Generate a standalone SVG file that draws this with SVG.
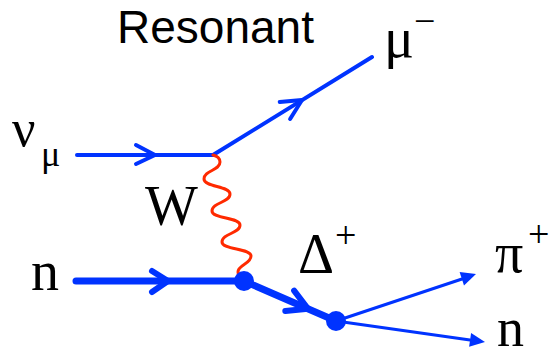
<svg xmlns="http://www.w3.org/2000/svg" width="549" height="358" viewBox="0 0 549 358">
<style>
.f{fill:none;stroke:#0033ff;stroke-linecap:round;stroke-linejoin:round}
.l1{stroke-width:4}
.l2{stroke-width:7}
.l3{stroke-width:3}
.w{fill:none;stroke:#ff2a00;stroke-width:3;stroke-linecap:round}
.dot{fill:#0033ff}
.head{fill:#0033ff}
.lab{font-family:"Liberation Serif","Times New Roman",serif;fill:#000}
.ttl{font-family:"Liberation Sans",Arial,sans-serif;fill:#000}
</style>
<rect width="549" height="358" fill="#fff"/>
<g id="title"><text class="ttl" x="117" y="43" font-size="46">Resonant</text></g>
<g id="connectors">
<path class="f l1" d="M77,155 H213"/>
<path class="f l1" d="M136,145 L155,155 L136,164"/>
<path class="f l1" d="M213,155 L372,57"/>
<path class="f l1" d="M279.7,101.9 L302,100 L290.1,119"/>
<path class="w" d="M213,155 C217,156 220,158 220,162 C220,171 204,170 204,179 C204,187 230,186 230,194 C230,203 212,202 212,211 C212,219 240,217 240,225 C240,234 222,233 222,242 C222,250 251,248 251,256 C251,264 238,265 238,272 C238,276 240,278 243,280"/>
<path class="f l2" d="M76,281 H244"/>
<path class="f" stroke-width="6" d="M152,271 L168,281 L152,292"/>
<path class="f l2" d="M244,281 L336,321"/>
<path class="f" stroke-width="6" d="M294.1,290.7 L308,308.8 L285.3,310.9"/>
<path class="f l3" d="M336,321 L462,279"/>
<polygon class="head" points="476,274 459.6,272.1 464,285.4"/>
<path class="f l3" d="M336,321 L470,340"/>
<polygon class="head" points="485,342 471.1,333 469.1,346.8"/>
</g>
<g id="vertex1"><circle class="dot" cx="244" cy="281" r="10"/></g>
<g id="vertex2"><circle class="dot" cx="336" cy="321" r="10"/></g>
<g id="label-numu"><text class="lab" x="12" y="146" font-size="52">ν<tspan x="41" y="166" font-size="36">μ</tspan></text></g>
<g id="label-mu"><text class="lab" x="384" y="57" font-size="56">μ<tspan x="414" y="34" font-size="38">−</tspan></text></g>
<g id="label-W"><text class="lab" x="145" y="225" font-size="56">W</text></g>
<g id="label-n-in"><text class="lab" x="31" y="290" font-size="56">n</text></g>
<g id="label-delta"><text class="lab" x="298" y="273" font-size="56">Δ<tspan x="335" y="248" font-size="38">+</tspan></text></g>
<g id="label-pi"><text class="lab" x="495" y="272" font-size="56">π<tspan x="528" y="247" font-size="38">+</tspan></text></g>
<g id="label-n-out"><text class="lab" x="497" y="346" font-size="54">n</text></g>
</svg>
